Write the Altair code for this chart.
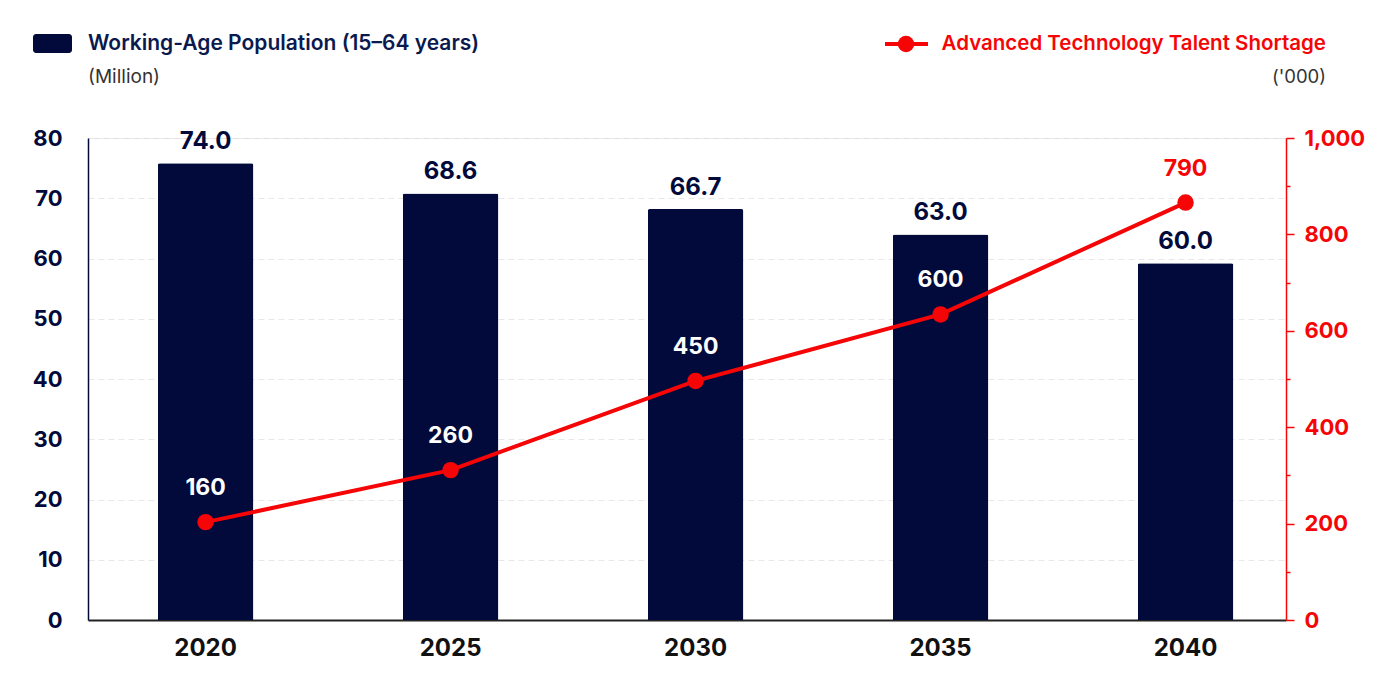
import altair as alt
import pandas as pd

# ---- data ----
years = ["2020", "2025", "2030", "2035", "2040"]
population = [75.8, 70.8, 68.2, 64.0, 59.2]          # bar heights as drawn (million)
population_labels = ["74.0", "68.6", "66.7", "63.0", "60.0"]
shortage = [203, 311, 496, 634, 866]                  # line points as drawn ('000)
shortage_labels = ["160", "260", "450", "600", "790"]

NAVY = "#020a3c"
RED = "#f50505"
FONT = "Inter"

df = pd.DataFrame({
    "year": years,
    "pop": population,
    "pop_label": population_labels,
    "short": shortage,
    "short_label": shortage_labels,
})

xenc = alt.X(
    "year:O",
    sort=years,
    scale=alt.Scale(paddingInner=0.61, paddingOuter=0.25, align=0.57),
    axis=alt.Axis(
        title=None, labelAngle=0, labelFont=FONT, labelFontSize=24, labelFontWeight="bold",
        labelColor="#111111", labelPadding=16, ticks=False,
        domainColor="#222222", domainWidth=2,
    ),
)

y_left = alt.Y(
    "pop:Q",
    scale=alt.Scale(domain=[0, 80], nice=False),
    axis=alt.Axis(
        title=None, values=list(range(0, 81, 10)), grid=True, gridDash=[6, 4],
        gridColor="#e8e8e8", gridWidth=1, labelFont=FONT, labelFontSize=22,
        labelFontWeight="bold", labelColor=NAVY, labelPadding=26, ticks=False,
        domainColor=NAVY, domainWidth=1.5,
    ),
)

y_right = alt.Y(
    "short:Q",
    scale=alt.Scale(domain=[0, 1000], nice=False),
    axis=alt.Axis(
        title=None, orient="right", values=list(range(0, 1001, 100)), grid=False,
        labelExpr="datum.value % 200 === 0 ? format(datum.value, ',') : ''",
        labelOverlap=False, labelFont=FONT, labelFontSize=22, labelFontWeight="bold",
        labelColor=RED, labelPadding=10, tickColor=RED, tickWidth=1.5,
        tickSize={"condition": {"test": "datum.value % 200 === 0", "value": 8}, "value": 4},
        domainColor=RED, domainWidth=1.5,
    ),
)

base = alt.Chart(df).encode(x=xenc)

bars = base.mark_bar(color=NAVY, width={"band": 1}, cornerRadiusTopLeft=2,
                     cornerRadiusTopRight=2).encode(y=y_left)
bar_text = base.mark_text(baseline="bottom", dy=-9, font=FONT, fontSize=24,
                          fontWeight="bold", color=NAVY).encode(y=y_left, text="pop_label:N")
left = alt.layer(bars, bar_text)

line = base.mark_line(color=RED, strokeWidth=4).encode(y=y_right)
pts = base.mark_point(filled=True, size=270, color=RED, opacity=1).encode(y=y_right)
line_text = base.mark_text(dy=-34, font=FONT, fontSize=23, fontWeight="bold").encode(
    y=y_right,
    text="short_label:N",
    color=alt.condition("datum.year === '2040'", alt.value(RED), alt.value("white")),
)
right = alt.layer(line, pts, line_text)

# ---- header / legend ----
hdr = pd.DataFrame({"k": [0]})
h = alt.Chart(hdr)
leg_rect = h.mark_rect(color=NAVY, cornerRadius=3).encode(
    x=alt.value(-55), x2=alt.value(-16), y=alt.value(-104), y2=alt.value(-85))
leg_title1 = h.mark_text(align="left", baseline="middle", font=FONT, fontSize=21,
                         fontWeight=600, color="#0a1a4e").encode(
    x=alt.value(0), y=alt.value(-94), text=alt.value("Working-Age Population (15–64 years)"))
unit1 = h.mark_text(align="left", baseline="middle", font=FONT, fontSize=19,
                    color="#333333").encode(
    x=alt.value(0), y=alt.value(-61), text=alt.value("(Million)"))
leg_line = h.mark_rule(color=RED, strokeWidth=4).encode(
    x=alt.value(797), x2=alt.value(840), y=alt.value(-94))
leg_pt = h.mark_point(filled=True, size=270, color=RED, opacity=1).encode(
    x=alt.value(818), y=alt.value(-94))
leg_title2 = h.mark_text(align="right", baseline="middle", font=FONT, fontSize=20.5,
                         fontWeight=600, color=RED).encode(
    x=alt.value(1238), y=alt.value(-94), text=alt.value("Advanced Technology Talent Shortage"))
unit2 = h.mark_text(align="right", baseline="middle", font=FONT, fontSize=18.5,
                    color="#333333").encode(
    x=alt.value(1238), y=alt.value(-61), text=alt.value("('000)"))

chart = alt.layer(
    left, right, leg_rect, leg_title1, unit1, leg_line, leg_pt, leg_title2, unit2
).resolve_scale(y="independent").properties(
    width=1198, height=482,
    autosize=alt.AutoSizeParams(type="none"),
    padding={"left": 80, "top": 130, "right": 85, "bottom": 62},
).configure_view(stroke=None).configure(background="white")

chart.save("out.html", embed_options={"renderer": "svg", "actions": False})
